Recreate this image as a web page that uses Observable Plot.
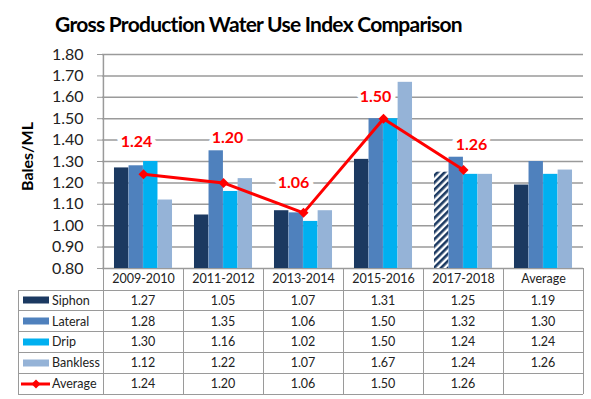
<!DOCTYPE html>
<html>
<head>
<meta charset="utf-8">
<script src="https://cdn.jsdelivr.net/npm/d3@7"></script>
<script src="https://cdn.jsdelivr.net/npm/@observablehq/plot@0.6"></script>
<style>
  html, body { margin: 0; padding: 0; background: #fff; }
  #wrap { position: relative; width: 591px; height: 399px; overflow: hidden; font-family: Lato, "Open Sans", sans-serif; color: #222; }
  #wrap > svg { position: absolute; left: 0; top: 0; }
  #title { position: absolute; left: 0; top: 11px; width: 517px; text-align: center; font-weight: bold; font-size: 21px; letter-spacing: -0.75px; line-height: 26px; color: #000; white-space: nowrap; }
  .hl, .vl { position: absolute; background: #9a9a9a; }
  .cell { position: absolute; display: flex; align-items: center; justify-content: center; font-size: 12.5px; color: #222; }
  .leg { position: absolute; display: flex; align-items: center; font-size: 12.5px; color: #222; }
  .leg svg { display: block; flex: none; }
</style>
</head>
<body>
<div id="wrap"></div>
<script>
// ---------- data ----------
const categories = ["2009-2010", "2011-2012", "2013-2014", "2015-2016", "2017-2018", "Average"];
const seriesNames = ["Siphon", "Lateral", "Drip", "Bankless"];
const siphon   = [1.27, 1.05, 1.07, 1.31, 1.25, 1.19];
const lateral  = [1.28, 1.35, 1.06, 1.50, 1.32, 1.30];
const drip     = [1.30, 1.16, 1.02, 1.50, 1.24, 1.24];
const bankless = [1.12, 1.22, 1.07, 1.67, 1.24, 1.26];
const averageLine = [1.24, 1.20, 1.06, 1.50, 1.26];
const yTickValues = [0.80, 0.90, 1.00, 1.10, 1.20, 1.30, 1.40, 1.50, 1.60, 1.70, 1.80];
const hatchedSeries = "Siphon";
const hatchedCategory = "2017-2018";

// ---------- styles / layout ----------
const colors = { Siphon: "#1b3961", Lateral: "#4f81bd", Drip: "#00b0f0", Bankless: "#95b3d7" };
const red = "#ff0000";
const grid = "#9a9a9a";
const W = 591, H = 290, mL = 102, mR = 8, mT = 54, mB = 22;
const yMin = yTickValues[0], yMax = yTickValues[yTickValues.length - 1];
const bw = (W - mL - mR) / categories.length;
const groupPad = bw * 0.137;
const barW = (bw - 2 * groupPad) / seriesNames.length;
// label nudges (annotation placement, pixels)
const labelNudge = [[-7, -32], [4, -45], [-10, -30], [-8, -22], [8, -25]];

const seriesValues = { Siphon: siphon, Lateral: lateral, Drip: drip, Bankless: bankless };
const rows = seriesNames.flatMap(s => categories.map((c, i) => ({ series: s, category: c, value: seriesValues[s][i] })));
const avgRows = averageLine.map((v, i) => ({ category: categories[i], value: v }));

const barMarks = seriesNames.flatMap((s, i) => {
  const inset = { insetLeft: groupPad + i * barW, insetRight: bw - groupPad - (i + 1) * barW };
  const isHatched = d => d.series === hatchedSeries && d.category === hatchedCategory;
  return [
    Plot.barY(rows.filter(d => d.series === s && !isHatched(d)), { x: "category", y1: () => yMin, y2: "value", fill: colors[s], ...inset }),
    Plot.barY(rows.filter(d => d.series === s && isHatched(d)), { x: "category", y1: () => yMin, y2: "value", fill: "url(#hatch)", ...inset })
  ];
});

const chart = Plot.plot({
  width: W, height: H,
  marginLeft: mL, marginRight: mR, marginTop: mT, marginBottom: mB,
  style: { background: "transparent", fontFamily: "Lato, 'Open Sans', sans-serif", color: "#222" },
  x: { type: "band", domain: categories, padding: 0 },
  y: { domain: [yMin, yMax] },
  marks: [
    Plot.gridY(yTickValues, { stroke: grid, strokeOpacity: 1, strokeWidth: 1.5 }),
    ...barMarks,
    Plot.ruleX([categories[0]], { x: d => d, y1: () => yMin, y2: () => yMax, dx: -bw / 2, stroke: grid, strokeWidth: 1.5 }),
    Plot.axisY(yTickValues, { tickFormat: d => d.toFixed(2), tickSize: 5, tickPadding: 14, fontSize: 16, stroke: grid, label: null }),
    Plot.axisX({ tickSize: 0, tickPadding: 6, fontSize: 12.5, label: null }),
    Plot.text(["Bales/ML"], { text: d => d, frameAnchor: "left", textAnchor: "middle", lineAnchor: "middle", rotate: -90, dx: -75, dy: -5, fontWeight: "bold", fontSize: 16, fill: "#000" }),
    Plot.line(avgRows, { x: "category", y: "value", stroke: red, strokeWidth: 3 }),
    Plot.dot(avgRows, { x: "category", y: "value", symbol: "diamond2", r: 4.5, fill: red, stroke: "none" }),
    ...avgRows.map((d, i) => Plot.text([d], {
      x: "category", y: "value", text: r => r.value.toFixed(2),
      dx: labelNudge[i][0], dy: labelNudge[i][1],
      fill: red, fontWeight: "bold", fontSize: 16, stroke: "white", strokeWidth: 9
    }))
  ]
});

// hatch pattern for the projected bar
const svg = d3.select(chart);
const pat = svg.insert("defs", ":first-child").append("pattern")
  .attr("id", "hatch").attr("patternUnits", "userSpaceOnUse")
  .attr("width", 5).attr("height", 5).attr("patternTransform", "rotate(45)");
pat.append("rect").attr("width", 5).attr("height", 5).attr("fill", "#fff");
pat.append("rect").attr("width", 2.6).attr("height", 5).attr("fill", colors.Siphon);

const wrap = document.getElementById("wrap");
wrap.appendChild(chart);

const title = document.createElement("div");
title.id = "title";
title.textContent = "Gross Production Water Use Index Comparison";
wrap.appendChild(title);

// ---------- data table under the axis ----------
const xs = chart.scale("x");
const bandLeft = c => xs.apply(c);
const tableTop = H - mB;          // 268
const headerBottom = H;           // 290
const rowH = 20.8;
const legendLeft = 18;
const right = W - mR;
const tableRows = [
  { name: "Siphon", values: siphon, kind: "bar" },
  { name: "Lateral", values: lateral, kind: "bar" },
  { name: "Drip", values: drip, kind: "bar" },
  { name: "Bankless", values: bankless, kind: "bar" },
  { name: "Average", values: averageLine, kind: "line" }
];
const bottom = headerBottom + rowH * tableRows.length;

function el(cls, css, text) {
  const e = document.createElement("div");
  e.className = cls;
  Object.assign(e.style, css);
  if (text != null) e.textContent = text;
  wrap.appendChild(e);
  return e;
}
// horizontal lines
el("hl", { left: mL + "px", top: (tableTop - 0.5) + "px", width: (right - mL) + "px", height: "1px" });
for (let r = 0; r <= tableRows.length; r++) {
  const y = headerBottom + r * rowH;
  el("hl", { left: legendLeft + "px", top: (y - 0.5) + "px", width: (right - legendLeft) + "px", height: "1px" });
}
// vertical lines
el("vl", { left: (legendLeft - 0.5) + "px", top: headerBottom + "px", width: "1px", height: (bottom - headerBottom) + "px" });
categories.forEach(c => {
  el("vl", { left: (bandLeft(c) - 0.5) + "px", top: tableTop + "px", width: "1px", height: (bottom - tableTop) + "px" });
});
el("vl", { left: (right - 0.5) + "px", top: tableTop + "px", width: "1px", height: (bottom - tableTop) + "px" });

// cells
tableRows.forEach((row, r) => {
  const y = headerBottom + r * rowH;
  const leg = el("leg", { left: (legendLeft + 3) + "px", top: y + "px", height: rowH + "px", width: (mL - legendLeft - 3) + "px" });
  const sw = document.createElementNS("http://www.w3.org/2000/svg", "svg");
  sw.setAttribute("width", 30); sw.setAttribute("height", 12);
  sw.style.marginRight = "1px";
  if (row.kind === "bar") {
    sw.innerHTML = `<rect x="2" y="2.5" width="26" height="7" fill="${colors[row.name]}"/>`;
  } else {
    sw.innerHTML = `<line x1="0" y1="6" x2="29" y2="6" stroke="${red}" stroke-width="3"/><path d="M15,1.5 L19.5,6 L15,10.5 L10.5,6 Z" fill="${red}"/>`;
  }
  leg.appendChild(sw);
  leg.appendChild(document.createTextNode(row.name));
  categories.forEach((c, i) => {
    const v = row.values[i];
    if (v == null) return;
    el("cell", { left: bandLeft(c) + "px", top: y + "px", width: xs.bandwidth + "px", height: rowH + "px" }, v.toFixed(2));
  });
});
</script>
</body>
</html>
